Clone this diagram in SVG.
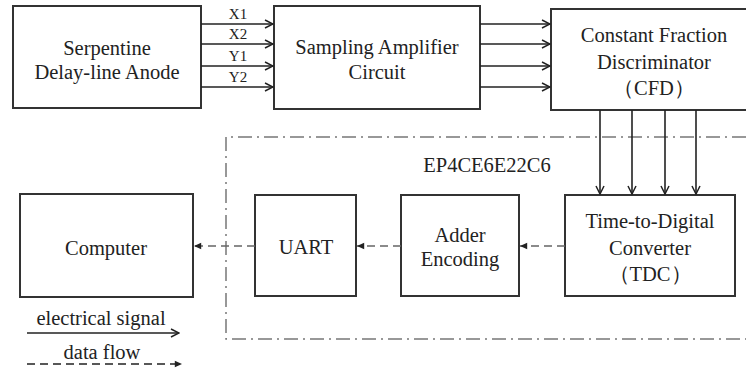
<svg xmlns="http://www.w3.org/2000/svg" width="746" height="373" viewBox="0 0 746 373" font-family="Liberation Serif, DejaVu Serif, serif">
  <style>
    .box { fill: #ffffff; stroke: #333333; stroke-width: 2; }
    text { font-family: "Liberation Serif", "DejaVu Serif", serif; fill: #222222; text-anchor: middle; dominant-baseline: central; }
    .t { font-size: 20.5px; }
    .lbl { font-size: 15px; }
    .sig { fill: none; stroke: #222222; stroke-width: 1.6; marker-end: url(#open); }
    .flow { fill: none; stroke: #666666; stroke-width: 1.5; stroke-dasharray: 8 5; marker-end: url(#solid); }
    .key { stroke: #222222; }
    .fpga { fill: none; stroke: #777777; stroke-width: 1.5; stroke-dasharray: 14 5 2 5; }
  </style>
  <defs>
    <marker id="open" viewBox="0 0 10 10" refX="9" refY="5" markerWidth="10" markerHeight="10" markerUnits="userSpaceOnUse" orient="auto">
      <path d="M1,1 L9,5 L1,9" fill="none" stroke="#222222" stroke-width="1.5"/>
    </marker>
    <marker id="solid" viewBox="0 0 10 10" refX="9" refY="5" markerWidth="9" markerHeight="9" markerUnits="userSpaceOnUse" orient="auto">
      <path d="M1,1.5 L9,5 L1,8.5 Z" fill="#222222"/>
    </marker>
  </defs>

  <!-- FPGA boundary -->
  <path class="fpga" d="M746,137 H226 V339 H746"/>
  <text class="t" x="487" y="165">EP4CE6E22C6</text>

  <g id="anode">
    <rect class="box" x="13" y="6" width="188" height="102"/>
    <text class="t" x="107" y="48">Serpentine</text>
    <text class="t" x="107" y="72">Delay-line Anode</text>
  </g>

  <g id="amplifier">
    <rect class="box" x="274" y="6" width="206" height="103"/>
    <text class="t" x="377" y="47">Sampling Amplifier</text>
    <text class="t" x="377" y="72">Circuit</text>
  </g>

  <g id="cfd">
    <rect class="box" x="551" y="9" width="200" height="101"/>
    <text class="t" x="654" y="35">Constant Fraction</text>
    <text class="t" x="654" y="62">Discriminator</text>
    <text class="t" x="654" y="88">（CFD）</text>
  </g>

  <g id="tdc">
    <rect class="box" x="565" y="195" width="170" height="101"/>
    <text class="t" x="650" y="221">Time-to-Digital</text>
    <text class="t" x="650" y="248">Converter</text>
    <text class="t" x="650" y="274">（TDC）</text>
  </g>

  <g id="adder">
    <rect class="box" x="401" y="195" width="118" height="101"/>
    <text class="t" x="460" y="235">Adder</text>
    <text class="t" x="460" y="259">Encoding</text>
  </g>

  <g id="uart">
    <rect class="box" x="255" y="195" width="101" height="101"/>
    <text class="t" x="306" y="247">UART</text>
  </g>

  <g id="computer">
    <rect class="box" x="20" y="194" width="173" height="103"/>
    <text class="t" x="106" y="248">Computer</text>
  </g>

  <g id="connectors">
    <!-- anode to amplifier -->
    <line class="sig" x1="201" y1="24" x2="273" y2="24"/>
    <line class="sig" x1="201" y1="44" x2="273" y2="44"/>
    <line class="sig" x1="201" y1="66" x2="273" y2="66"/>
    <line class="sig" x1="201" y1="87" x2="273" y2="87"/>
    <text class="lbl" x="238" y="14">X1</text>
    <text class="lbl" x="238" y="34">X2</text>
    <text class="lbl" x="238" y="56">Y1</text>
    <text class="lbl" x="238" y="77">Y2</text>
    <!-- amplifier to CFD -->
    <line class="sig" x1="480" y1="24" x2="550" y2="24"/>
    <line class="sig" x1="480" y1="44" x2="550" y2="44"/>
    <line class="sig" x1="480" y1="66" x2="550" y2="66"/>
    <line class="sig" x1="480" y1="87" x2="550" y2="87"/>
    <!-- CFD to TDC -->
    <line class="sig" x1="600" y1="110" x2="600" y2="194"/>
    <line class="sig" x1="632" y1="110" x2="632" y2="194"/>
    <line class="sig" x1="665" y1="110" x2="665" y2="194"/>
    <line class="sig" x1="696" y1="110" x2="696" y2="194"/>
    <!-- data flow -->
    <line class="flow" x1="565" y1="246" x2="520" y2="246"/>
    <line class="flow" x1="401" y1="246" x2="357" y2="246"/>
    <line class="flow" x1="255" y1="246" x2="194" y2="246"/>
  </g>

  <!-- legend -->
  <g id="legend">
    <text class="t" x="101" y="318">electrical signal</text>
    <line class="sig" x1="27" y1="333" x2="179" y2="333"/>
    <text class="t" x="102" y="352">data flow</text>
    <line class="flow key" x1="27" y1="364" x2="182" y2="364"/>
  </g>
</svg>
